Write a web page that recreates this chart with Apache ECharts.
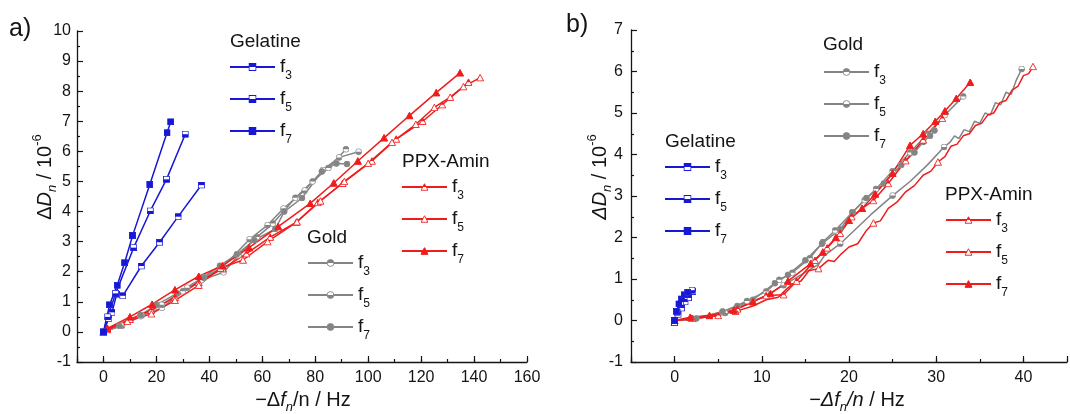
<!DOCTYPE html>
<html>
<head>
<meta charset="utf-8">
<script src="https://cdn.jsdelivr.net/npm/echarts@6/dist/echarts.min.js"></script>
<style>
  html, body { margin: 0; padding: 0; background: #fff; }
  #chart { width: 1070px; height: 414px; }
</style>
</head>
<body>
<div id="chart"></div>
<script>
// ---- Panel a: -Δf/n (Hz) vs ΔD (1e-6), harmonics f3 / f5 / f7 ----
const gelA3 = [[0,0],[2,0.45],[3.2,0.65],[5,1.25],[7.3,1.2],[14.3,2.19],[21.2,2.98],[28.2,3.83],[37,4.88]];
const gelA5 = [[0,0],[1.6,0.5],[4.6,1.28],[11.4,2.8],[17.7,4.02],[23.8,5.07],[30.9,6.57]];
const gelA7 = [[0,0],[2.3,0.9],[5.2,1.55],[8,2.3],[11,3.2],[17.5,4.9],[24,6.62],[25.4,6.98]];

const goldA3 = [[0,0],[7,0.2],[14,0.52],[22.1,0.8],[30,1.35],[37,1.72],[45.4,1.98],[51,2.55],[58,3.15],[64,3.6],[72.5,4.46],[79,5.0],[85,5.45],[91.6,6.07]];
const goldA5 = [[0,0],[6.8,0.21],[14.5,0.55],[22,0.9],[31.6,1.47],[38,1.8],[45,2.15],[55.2,3.08],[62,3.55],[68,4.1],[76,4.7],[82.9,5.38],[89,5.8],[96.4,5.99]];
const goldA7 = [[0,0],[6,0.2],[14,0.56],[20,0.9],[27.8,1.28],[37.9,1.82],[44,2.2],[50.4,2.58],[57,3.05],[64.9,3.42],[68.3,4.0],[75,4.45],[82.5,5.33],[88,5.6],[92,5.58]];

const ppxA3 = [[0,0],[1.5,0.1],[10,0.42],[18,0.72],[27,1.15],[36,1.65],[45,2.1],[54,2.6],[63,3.15],[72.8,3.64],[81,4.3],[90.4,4.94],[101.4,5.68],[110.6,6.41],[120.6,7.0],[128,7.55],[137.9,8.3]];
const ppxA5 = [[0,0],[1.5,0.08],[9,0.35],[18.1,0.6],[27,1.05],[36,1.55],[44.2,2.12],[52.7,2.39],[62,3.0],[73.1,3.66],[82,4.35],[91,5.0],[100,5.6],[109,6.3],[118,6.9],[125,7.46],[131,7.8],[136,8.15],[142.3,8.45]];
const ppxA7 = [[0,0],[1.5,0.12],[10,0.5],[18.4,0.92],[27,1.4],[36,1.85],[45,2.2],[55,2.8],[66,3.5],[78.1,4.27],[87,4.95],[96.1,5.68],[106,6.45],[115.6,7.19],[125.7,7.95],[134.7,8.61]];

// ---- Panel b ----
const gelB3 = [[0,-0.05],[0.4,0.15],[0.8,0.3],[1.2,0.45],[1.6,0.55],[2.1,0.7]];
const gelB5 = [[0,0],[0.3,0.2],[0.7,0.38],[1.1,0.52],[1.6,0.62],[2.0,0.73]];
const gelB7 = [[0,0],[0.2,0.22],[0.5,0.4],[0.8,0.52],[1.1,0.62],[1.5,0.68]];

const goldB3 = [[0,0],[2,0.05],[5.5,0.2],[8.3,0.47],[10.5,0.7],[12,0.98],[13.5,1.15],[15.5,1.5],[17,1.89],[18.4,2.17],[20.4,2.61],[21.8,2.9],[23.1,3.17],[25,3.6],[27,4.05],[29,4.5],[31,4.95],[33.1,5.4]];
const goldB5 = [[0,0],[2,0.02],[5.8,0.18],[8.2,0.4],[10.5,0.6],[12.5,0.85],[14.5,1.1],[16.5,1.35],[17.2,1.57],[19,1.85],[20.6,2.17],[22.5,2.55],[25,3.01],[27,3.35],[29,3.75],[30.9,4.18],[31.6,4.3],[32.1,4.45],[32.6,4.38],[33.2,4.6],[33.8,4.55],[34.4,4.8],[35,4.75],[35.6,5.0],[36.2,4.95],[36.8,5.25],[37.4,5.2],[38,5.5],[38.6,5.45],[39.2,5.8],[39.8,6.06]];
const goldB7 = [[0,0],[2.5,0.05],[5.5,0.22],[7.2,0.35],[9,0.5],[11.5,0.9],[13,1.1],[15,1.45],[16.9,1.85],[19,2.2],[20.4,2.61],[22,2.95],[24,3.3],[26,3.75],[27.5,4.05],[28.5,4.3],[29.3,4.45],[29.8,4.58]];

const ppxB3 = [[0,0],[2,0.05],[5,0.12],[7.2,0.28],[10.5,0.6],[12.5,0.62],[14,0.95],[16.1,1.45],[17.5,1.75],[19,2.1],[20.3,2.5],[21.5,2.7],[22.8,2.89],[24.5,3.3],[26.5,3.85],[28.5,4.35],[30.7,4.87]];
const ppxB5 = [[0,0],[2,0.04],[4.5,0.1],[7,0.22],[9,0.35],[10.5,0.5],[11.9,0.56],[12.8,0.75],[13.5,0.88],[14.5,0.95],[15.4,1.2],[16.5,1.25],[17.6,1.45],[18.3,1.42],[19.1,1.6],[20,1.77],[21,1.85],[22,2.17],[22.8,2.35],[23.6,2.4],[24.5,2.7],[25.5,2.85],[26.5,3.1],[27.5,3.25],[28.5,3.5],[29.4,3.6],[30.2,3.82],[31,3.95],[31.7,4.2],[32.4,4.25],[33.1,4.45],[33.8,4.5],[34.5,4.7],[35.2,4.75],[35.9,4.95],[36.6,5.0],[37.3,5.25],[38,5.3],[38.7,5.55],[39.4,5.65],[40,5.9],[40.6,5.95],[41.1,6.12]];
const ppxB7 = [[0,0],[1.8,0.08],[4,0.12],[6.8,0.25],[9,0.45],[11,0.65],[13,0.95],[15.6,1.37],[17,1.65],[18.5,2.0],[20,2.41],[21.5,2.7],[23,3.05],[25,3.55],[27,4.22],[28.5,4.5],[29.9,4.8],[31,5.05],[32.3,5.35],[33.9,5.74]];

// tick labels
const xTicksA = [0, 20, 40, 60, 80, 100, 120, 140, 160];
const xTicksB = [0, 10, 20, 30, 40];

const FONT = 'Liberation Sans, Arial, sans-serif';
const INK = '#141414';
const BLUE = '#1717d6';
const RED = '#f01c1c';
const GRAY = '#848484';

// marker glyphs: outline + optional half/full fill
function marker(shape, fill, color) {
  let outline, half;
  if (shape === 'square') {
    outline = `<rect x='1' y='1' width='14' height='14' fill='white' stroke='${color}' stroke-width='2'/>`;
    half = { top: `<rect x='1' y='1' width='14' height='7' fill='${color}'/>`,
             bottom: `<rect x='1' y='8' width='14' height='7' fill='${color}'/>`,
             full: `<rect x='1' y='1' width='14' height='14' fill='${color}'/>` };
  } else if (shape === 'circle') {
    outline = `<circle cx='8' cy='8' r='6.8' fill='white' stroke='${color}' stroke-width='1.8'/>`;
    half = { top: `<path d='M1.2 8 A6.8 6.8 0 0 1 14.8 8 Z' fill='${color}'/>`,
             bottom: `<path d='M1.2 8 A6.8 6.8 0 0 0 14.8 8 Z' fill='${color}'/>`,
             full: `<circle cx='8' cy='8' r='6.8' fill='${color}'/>` };
  } else {
    outline = `<polygon points='8,1.5 15,14.5 1,14.5' fill='white' stroke='${color}' stroke-width='1.8' stroke-linejoin='round'/>`;
    half = { top: `<polygon points='8,1.5 11.5,8 4.5,8' fill='${color}'/>`,
             bottom: `<polygon points='4.5,8 11.5,8 15,14.5 1,14.5' fill='${color}'/>`,
             full: `<polygon points='8,1.5 15,14.5 1,14.5' fill='${color}' stroke='${color}' stroke-width='1.2' stroke-linejoin='round'/>` };
  }
  const inner = fill === 'none' ? '' : half[fill];
  const svg = `<svg xmlns='http://www.w3.org/2000/svg' width='16' height='16' viewBox='0 0 16 16'>${outline}${inner}</svg>`;
  return 'image://data:image/svg+xml;charset=utf-8,' + encodeURIComponent(svg);
}

function curve(name, data, xi, yi, color, shape, fill, size, marks) {
  return {
    type: 'line', name, data,
    xAxisIndex: xi, yAxisIndex: yi,
    symbol: marker(shape, fill, color),
    symbolSize: marks ? (v, p) => (marks.includes(p.dataIndex) ? size : 0) : size,
    showAllSymbol: true,
    lineStyle: { color, width: 1.5 },
    itemStyle: { color },
    emphasis: { disabled: true },
    animation: false
  };
}

const series = [
  // panel a
  curve('goldA3', goldA3, 0, 0, GRAY, 'circle', 'top', 7),
  curve('goldA5', goldA5, 0, 0, GRAY, 'circle', 'bottom', 7),
  curve('goldA7', goldA7, 0, 0, GRAY, 'circle', 'full', 7),
  curve('ppxA3', ppxA3, 0, 0, RED, 'triangle', 'top', 8),
  curve('ppxA5', ppxA5, 0, 0, RED, 'triangle', 'none', 8),
  curve('ppxA7', ppxA7, 0, 0, RED, 'triangle', 'full', 8),
  curve('gelA3', gelA3, 0, 0, BLUE, 'square', 'top', 7),
  curve('gelA5', gelA5, 0, 0, BLUE, 'square', 'bottom', 7),
  curve('gelA7', gelA7, 0, 0, BLUE, 'square', 'full', 7),
  // panel b
  curve('goldB3', goldB3, 2, 1, GRAY, 'circle', 'top', 7),
  curve('goldB5', goldB5, 2, 1, GRAY, 'circle', 'bottom', 7, [0, 2, 5, 9, 12, 15, 30]),
  curve('goldB7', goldB7, 2, 1, GRAY, 'circle', 'full', 7),
  curve('ppxB3', ppxB3, 2, 1, RED, 'triangle', 'top', 8),
  curve('ppxB5', ppxB5, 2, 1, RED, 'triangle', 'none', 8, [3, 11, 18, 26, 42]),
  curve('ppxB7', ppxB7, 2, 1, RED, 'triangle', 'full', 8),
  curve('gelB3', gelB3, 2, 1, BLUE, 'square', 'top', 7),
  curve('gelB5', gelB5, 2, 1, BLUE, 'square', 'bottom', 7),
  curve('gelB7', gelB7, 2, 1, BLUE, 'square', 'full', 7)
];

const axisLine = { show: true, onZero: false, lineStyle: { color: INK, width: 1.3 } };
const tickLabel = { color: INK, fontSize: 16, fontFamily: FONT };

function dataX(grid, min, max, step, labels) {
  return {
    type: 'value', gridIndex: grid, position: 'bottom', min, max, interval: step,
    axisLine, splitLine: { show: false },
    axisTick: { inside: true, length: 3, lineStyle: { color: INK, width: 1.2 } },
    axisLabel: Object.assign({ margin: 8, formatter: v => (labels.includes(v) ? String(v) : '') }, tickLabel)
  };
}
function majorX(grid, min, max, step) {
  return {
    type: 'value', gridIndex: grid, position: 'bottom', min, max, minInterval: step, maxInterval: step,
    axisLine: { show: false, onZero: false }, splitLine: { show: false },
    axisTick: { inside: true, length: 6, lineStyle: { color: INK, width: 1.2 } },
    axisLabel: { show: false }
  };
}
function yAxis(grid, min, max, margin) {
  return {
    type: 'value', gridIndex: grid, min, max, interval: 1,
    axisLine, splitLine: { show: false },
    axisTick: { inside: true, length: 6, lineStyle: { color: INK, width: 1.2 } },
    minorTick: { show: true, splitNumber: 2, length: 3, lineStyle: { color: INK, width: 1.2 } },
    axisLabel: Object.assign({ margin }, tickLabel)
  };
}

const subRich = {
  s: { fontSize: 12, lineHeight: 12, verticalAlign: 'bottom', fontFamily: FONT, color: INK }
};
function legendBlock(names, left, top) {
  return {
    data: names, left, top, orient: 'vertical', padding: 0,
    itemWidth: 45, itemHeight: 10, itemGap: 2, selectedMode: false,
    formatter: n => 'f{s|' + n.slice(-1) + '}',
    textStyle: { fontSize: 19, lineHeight: 30, fontFamily: FONT, color: INK, rich: subRich }
  };
}

function label(text, x, y, size) {
  return { type: 'text', x, y, silent: true,
    style: { text, fontSize: size || 19, fontFamily: FONT, fill: INK, align: 'left', verticalAlign: 'middle' } };
}

// axis titles with italics, sub- and superscripts
const nameRich = {
  i: { fontStyle: 'italic', fontSize: 20, lineHeight: 28, fontFamily: FONT, color: INK },
  is: { fontStyle: 'italic', fontSize: 13, lineHeight: 13, verticalAlign: 'bottom', fontFamily: FONT, color: INK },
  sup: { fontSize: 13, lineHeight: 13, verticalAlign: 'top', fontFamily: FONT, color: INK }
};
function axisTitle(text, x, y, rotate) {
  return { type: 'text', x, y, rotation: rotate ? Math.PI / 2 : 0, silent: true,
    style: { text, fontSize: 20, lineHeight: 28, fontFamily: FONT, fill: INK,
             align: 'center', verticalAlign: 'middle', rich: nameRich } };
}

const option = {
  backgroundColor: '#fff',
  animation: false,
  grid: [
    { left: 77, right: 543, top: 31, bottom: 52 },
    { left: 631, right: -10, top: 30, bottom: 52 }
  ],
  xAxis: [
    dataX(0, -10, 160, 10, xTicksA),
    majorX(0, -10, 160, 20),
    dataX(1, -5, 45, 5, xTicksB),
    majorX(1, -5, 45, 10)
  ],
  yAxis: [yAxis(0, -1, 10, 6), yAxis(1, -1, 7, 8)],
  legend: [
    legendBlock(['gelA3', 'gelA5', 'gelA7'], 229, 52),
    legendBlock(['goldA3', 'goldA5', 'goldA7'], 307, 248),
    legendBlock(['ppxA3', 'ppxA5', 'ppxA7'], 401, 172),
    legendBlock(['goldB3', 'goldB5', 'goldB7'], 823, 57),
    legendBlock(['gelB3', 'gelB5', 'gelB7'], 664, 152),
    legendBlock(['ppxB3', 'ppxB5', 'ppxB7'], 945, 205)
  ],
  graphic: [
    label('a)', 9, 29, 25),
    label('b)', 566, 25, 25),
    label('Gelatine', 230, 42),
    label('Gold', 307, 238),
    label('PPX-Amin', 402, 162),
    label('Gold', 823, 45),
    label('Gelatine', 665, 142),
    label('PPX-Amin', 945, 195),
    axisTitle('Δ{i|D}{is|n} / 10{sup|-6}', 45, 177, true),
    axisTitle('−Δ{i|f}{is|n}/n / Hz', 303, 400, false),
    axisTitle('{i|Δ}{i|D}{is|n} / 10{sup|-6}', 600, 177, true),
    axisTitle('−{i|Δf}{is|n}{i|/n} / Hz', 857, 400, false)
  ],
  series
};

const chart = echarts.init(document.getElementById('chart'), null, { renderer: 'canvas' });
chart.setOption(option);
</script>
</body>
</html>
